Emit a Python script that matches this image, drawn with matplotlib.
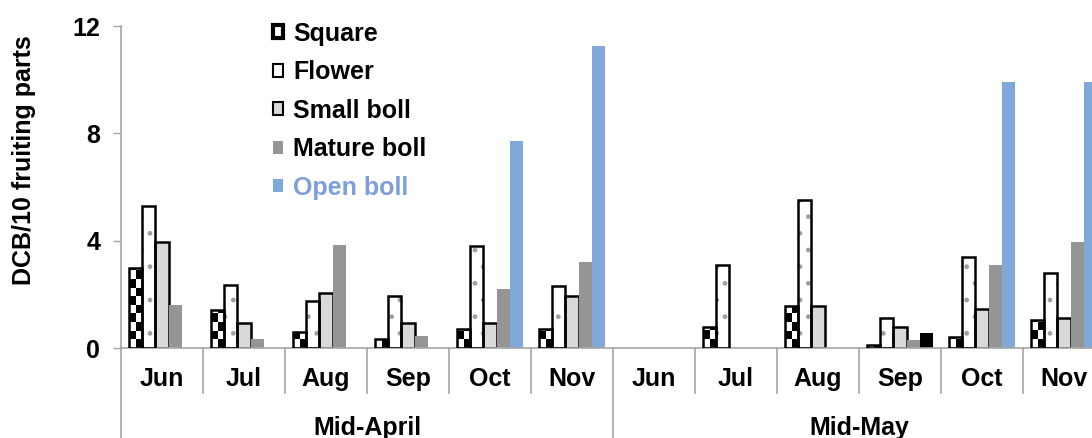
import numpy as np
import matplotlib
matplotlib.use("Agg")
import matplotlib.pyplot as plt
from matplotlib.colors import ListedColormap
from matplotlib.patches import Rectangle, Patch
from matplotlib.transforms import blended_transform_factory

# ---- data -------------------------------------------------------------
groups = ["Mid-April", "Mid-May"]
months = ["Jun", "Jul", "Aug", "Sep", "Oct", "Nov"]
series_names = ["Square", "Flower", "Small boll", "Mature boll", "Open boll"]

april_square = [3.0, 1.4, 0.6, 0.35, 0.7, 0.7]
april_flower = [5.3, 2.35, 1.75, 1.95, 3.8, 2.3]
april_small = [3.95, 0.95, 2.05, 0.95, 0.95, 1.95]
april_mature = [1.6, 0.35, 3.85, 0.45, 2.2, 3.2]
april_open = [0.0, 0.0, 0.0, 0.0, 7.7, 11.25]

may_square = [0.0, 0.8, 1.55, 0.1, 0.4, 1.05]
may_flower = [0.0, 3.1, 5.5, 1.1, 3.4, 2.8]
may_small = [0.0, 0.0, 1.55, 0.8, 1.45, 1.1]
may_mature = [0.0, 0.0, 0.0, 0.3, 3.1, 3.95]
may_open = [0.0, 0.0, 0.0, 0.55, 9.9, 9.9]

y_ticks = [0, 4, 8, 12]
y_label = "DCB/10 fruiting parts"

# ---- styling ----------------------------------------------------------
FONT = "Liberation Sans"
AXIS_GREY = "#a6a6a6"
SMALL_GREY = "#d9d9d9"
MATURE_GREY = "#959595"
OPEN_BLUE = "#80a8d8"
OPEN_TEXT = "#7d9ddb"
LABEL_SIZE = 18
# one open-boll bar is filled black in the Mid-May September cluster
open_override = {("Mid-May", "Sep"): "black"}

plt.rcParams["font.family"] = [FONT, "DejaVu Sans"]
plt.rcParams["font.weight"] = "bold"

series = {
    "Square": april_square + may_square,
    "Flower": april_flower + may_flower,
    "Small boll": april_small + may_small,
    "Mature boll": april_mature + may_mature,
    "Open boll": april_open + may_open,
}
cat_labels = months * len(groups)
cat_groups = [g for g in groups for _ in months]
n_cat = len(cat_labels)
x = np.arange(n_cat) + 0.5
bar_w = 0.16

fig = plt.figure(figsize=(10.92, 4.38), dpi=100)
W, H = 1092, 438
ax_left, ax_right = 121, 1105
ax_bottom, ax_top = 348, 26
ax_h = ax_bottom - ax_top
ax = fig.add_axes([ax_left / W, (H - ax_bottom) / H,
                   (ax_right - ax_left) / W, ax_h / H])

offsets = (np.arange(5) - 2) * bar_w
cell_h = 0.32
checker_cmap = ListedColormap(["white", "black"])


def edges_for(values, color):
    """Outline colour per bar; empty bars get no outline."""
    return [color if v > 0 else "none" for v in values]


# Square: checkerboard fill clipped to each bar
for xi, h in zip(x + offsets[0], series["Square"]):
    if h <= 0:
        continue
    x0 = xi - bar_w / 2
    n = int(np.ceil(h / cell_h))
    grid = (np.indices((n, 2)).sum(axis=0) % 2).astype(float)
    im = ax.imshow(grid, cmap=checker_cmap, vmin=0, vmax=1,
                   extent=(x0, x0 + bar_w, 0, n * cell_h), origin="lower",
                   aspect="auto", interpolation="nearest", zorder=2)
    im.set_clip_path(Rectangle((x0, 0), bar_w, h, transform=ax.transData))
ax.bar(x + offsets[0], series["Square"], width=bar_w, fill=False,
       edgecolor=edges_for(series["Square"], "black"), linewidth=1.8, zorder=3)

# Flower: white with sparse dots
ax.bar(x + offsets[1], series["Flower"], width=bar_w, facecolor="white",
       edgecolor="#a0a0a0", linewidth=0, hatch=".", zorder=2)
ax.bar(x + offsets[1], series["Flower"], width=bar_w, fill=False,
       edgecolor=edges_for(series["Flower"], "black"), linewidth=1.8, zorder=3)

# Small boll: light grey outlined
ax.bar(x + offsets[2], series["Small boll"], width=bar_w, facecolor=SMALL_GREY,
       edgecolor=edges_for(series["Small boll"], "black"), linewidth=1.8,
       zorder=2)

# Mature boll: solid grey
ax.bar(x + offsets[3], series["Mature boll"], width=bar_w, color=MATURE_GREY,
       linewidth=0, zorder=2)

# Open boll: blue
open_colors = [open_override.get((g, m), OPEN_BLUE)
               for g, m in zip(cat_groups, cat_labels)]
ax.bar(x + offsets[4], series["Open boll"], width=bar_w, color=open_colors,
       linewidth=0, zorder=2)

# ---- axes -------------------------------------------------------------
ax.set_xlim(0, n_cat)
ax.set_ylim(0, 12)
ax.set_yticks(y_ticks)
ax.tick_params(axis="y", direction="out", length=6, width=1, color=AXIS_GREY,
               labelsize=LABEL_SIZE, pad=9)
for t in ax.get_yticklabels():
    t.set_fontweight("bold")
ax.set_xticks(x)
ax.set_xticklabels(cat_labels, fontsize=LABEL_SIZE, fontweight="bold")
ax.tick_params(axis="x", length=0, pad=14)
for side in ("top", "right"):
    ax.spines[side].set_visible(False)
for side in ("left", "bottom"):
    ax.spines[side].set_color(AXIS_GREY)
    ax.spines[side].set_linewidth(1.2)

ax.set_ylabel(y_label, fontsize=LABEL_SIZE, fontweight="bold")
ax.yaxis.set_label_coords(-(ax_left - 36) / (ax_right - ax_left),
                          (ax_bottom - 160) / ax_h)

# category separators below the axis
trans = blended_transform_factory(ax.transData, ax.transAxes)
month_drop = 45 / ax_h
group_drop = (H - ax_bottom) / ax_h
for b in range(n_cat + 1):
    drop = group_drop if b % len(months) == 0 else month_drop
    ax.plot([b, b], [0, -drop], transform=trans, color=AXIS_GREY,
            linewidth=1.2, clip_on=False, zorder=1)

for gi, g in enumerate(groups):
    cx = gi * len(months) + len(months) / 2
    ax.text(cx, -80 / ax_h, g, transform=trans,
            ha="center", va="center", fontsize=LABEL_SIZE, fontweight="bold")

# ---- legend -----------------------------------------------------------
handles = [
    Patch(facecolor="white", edgecolor="black", linewidth=3),
    Patch(facecolor="white", edgecolor="black", linewidth=1.5),
    Patch(facecolor=SMALL_GREY, edgecolor="black", linewidth=1.5),
    Patch(facecolor=MATURE_GREY, edgecolor="none"),
    Patch(facecolor=OPEN_BLUE, edgecolor="none"),
]
leg = fig.legend(handles, series_names, loc="upper left",
                 bbox_to_anchor=(260 / W, 1 - 9 / H), frameon=False,
                 prop={"family": FONT, "weight": "bold", "size": 18},
                 handlelength=0.42, handleheight=0.42, handletextpad=0.4,
                 labelspacing=0.58, borderpad=0,
                 labelcolor=["black", "black", "black", "black", OPEN_TEXT])

fig.savefig("out.png", dpi=100)
